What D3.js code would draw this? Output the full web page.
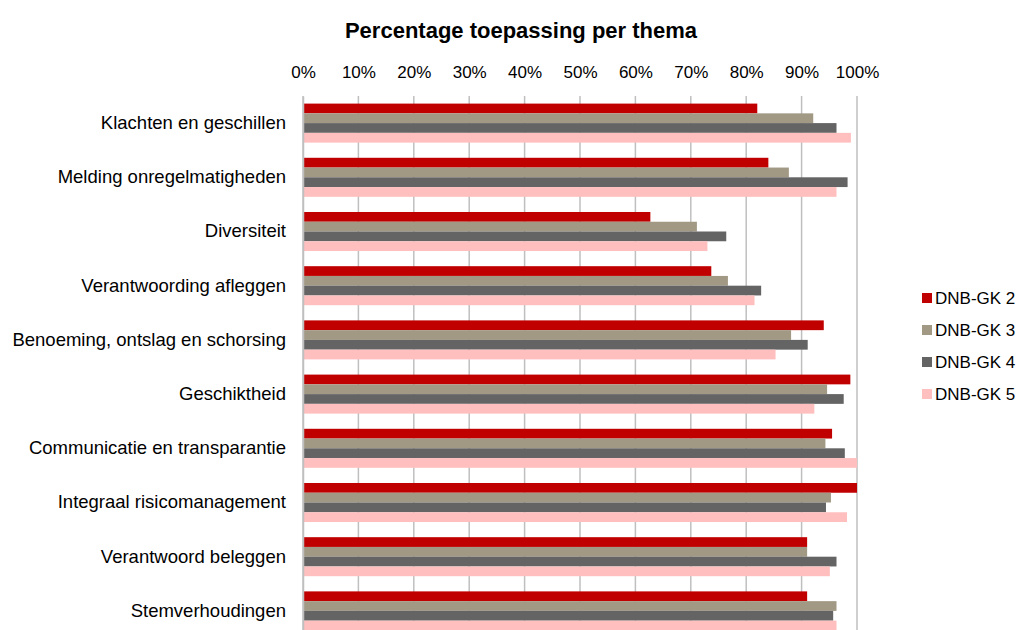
<!DOCTYPE html>
<html>
<head>
<meta charset="utf-8">
<script src="https://cdn.jsdelivr.net/npm/d3@7"></script>
<style>
  body { margin: 0; background: #fff; }
  text { font-family: "Liberation Sans", Arial, sans-serif; fill: #000; }
</style>
</head>
<body>
<div id="chart"></div>
<script>
// chart data
var categories = ["Klachten en geschillen", "Melding onregelmatigheden", "Diversiteit",
  "Verantwoording afleggen", "Benoeming, ontslag en schorsing", "Geschiktheid",
  "Communicatie en transparantie", "Integraal risicomanagement",
  "Verantwoord beleggen", "Stemverhoudingen"];
var seriesNames = ["DNB-GK 2", "DNB-GK 3", "DNB-GK 4", "DNB-GK 5"];
var gk2 = [82, 84, 62.7, 73.7, 94, 98.8, 95.5, 100, 91, 91];
var gk3 = [92.1, 87.7, 71.1, 76.7, 88.1, 94.6, 94.3, 95.3, 91, 96.3];
var gk4 = [96.3, 98.3, 76.4, 82.7, 91.1, 97.6, 97.8, 94.4, 96.3, 95.7];
var gk5 = [98.9, 96.3, 73, 81.5, 85.3, 92.3, 100, 98.2, 95.1, 96.3];
var tickValues = [0, 10, 20, 30, 40, 50, 60, 70, 80, 90, 100];

var Width = 1025, Height = 630;
var colors = ["#c00000", "#a29985", "#646464", "#ffbfbf"];
var plot = { left: 303, right: 857, top: 96, bottom: 638 };

var svg = d3.select("#chart").append("svg")
    .attr("width", Width).attr("height", Height);

var values = [gk2, gk3, gk4, gk5];
var data = categories.map(function(c, i) {
  return { cat: c, vals: values.map(function(v) { return v[i]; }) };
});

var x = d3.scaleLinear().domain([0, 100]).range([plot.left, plot.right]);
var y = d3.scaleBand().domain(categories).range([plot.top, plot.bottom]).paddingInner(0.28).paddingOuter(0.14);
var ySub = d3.scaleBand().domain(d3.range(seriesNames.length)).range([0, y.bandwidth()]);

// title
svg.append("text")
  .attr("x", 521).attr("y", 38)
  .attr("text-anchor", "middle")
  .attr("font-size", "22px").attr("font-weight", "bold")
  .text("Percentage toepassing per thema");

// gridlines
svg.append("g").selectAll("line").data(tickValues).enter().append("line")
  .attr("x1", function(d) { return x(d); }).attr("x2", function(d) { return x(d); })
  .attr("y1", plot.top).attr("y2", plot.bottom)
  .attr("stroke", "#bfbfbf").attr("stroke-width", 1.5);

// top axis labels
var xAxis = d3.axisTop(x).tickValues(tickValues).tickSize(0).tickPadding(0)
  .tickFormat(function(d) { return d + "%"; });
var gx = svg.append("g").attr("transform", "translate(0," + 78 + ")").call(xAxis);
gx.select(".domain").remove();
gx.selectAll("text").attr("font-size", "17px").attr("fill", "#000")
  .style("font-family", "'Liberation Sans', Arial, sans-serif");

// bars
var groups = svg.append("g").selectAll("g").data(data).enter().append("g")
  .attr("transform", function(d) { return "translate(0," + y(d.cat) + ")"; });
groups.selectAll("rect").data(function(d) { return d.vals; }).enter().append("rect")
  .attr("x", x(0))
  .attr("y", function(d, i) { return ySub(i); })
  .attr("width", function(d) { return x(d) - x(0); })
  .attr("height", ySub.bandwidth())
  .attr("fill", function(d, i) { return colors[i]; });

// left axis
var yAxis = d3.axisLeft(y).tickSize(0).tickPadding(17);
var gy = svg.append("g").attr("transform", "translate(" + plot.left + ",0)").call(yAxis);
gy.select(".domain").attr("stroke", "#bfbfbf").attr("stroke-width", 1.5);
gy.selectAll("text").attr("font-size", "18.5px").attr("fill", "#000")
  .style("font-family", "'Liberation Sans', Arial, sans-serif");

// legend
var legend = svg.append("g").selectAll("g").data(seriesNames).enter().append("g")
  .attr("transform", function(d, i) { return "translate(922," + (298 + i * 32) + ")"; });
legend.append("rect").attr("x", 0).attr("y", -5).attr("width", 10).attr("height", 10)
  .attr("fill", function(d, i) { return colors[i]; });
legend.append("text").attr("x", 13).attr("y", 6).attr("font-size", "17px")
  .text(function(d) { return d; });
</script>
</body>
</html>
